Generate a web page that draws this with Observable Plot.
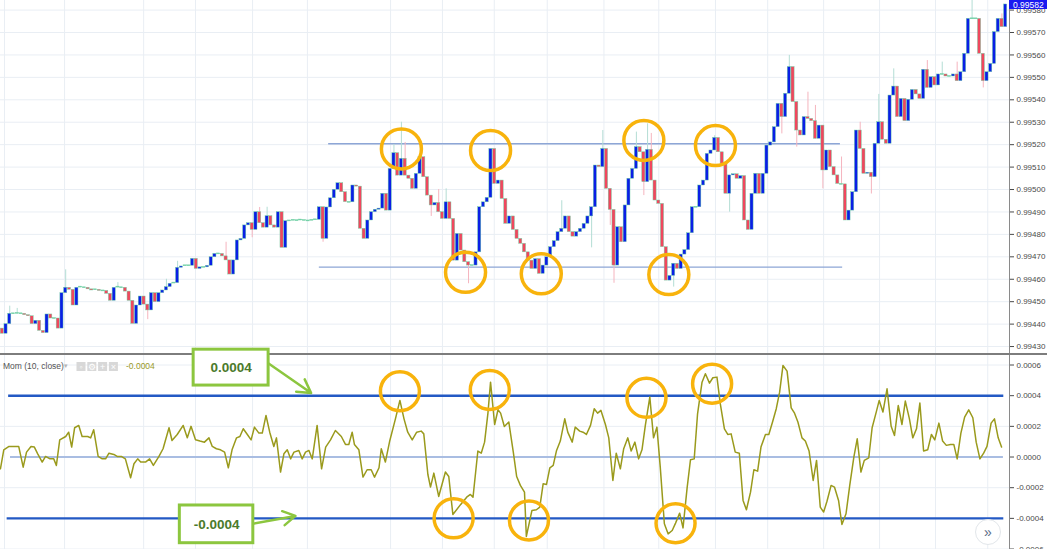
<!DOCTYPE html>
<html><head><meta charset="utf-8">
<script src="https://cdn.jsdelivr.net/npm/d3@7"></script>
<script src="https://cdn.jsdelivr.net/npm/@observablehq/plot@0.6"></script>
<style>
html,body{margin:0;padding:0;background:#fff;}
#chart{position:relative;width:1047px;height:549px;overflow:hidden;font-family:"Liberation Sans",Arial,sans-serif;background:#fff;}
#sep{height:2px;width:1047px;background:#7d7d7d;}
svg{display:block;}
</style></head><body><div id="chart"></div>
<script>
// ---------- data ----------
const firstOpen = 0.99438;
const closes = [
0.994357,0.9944,0.994446,0.994446,0.994448,0.994446,0.99444,0.994435,0.9944,0.994415,
0.99437,0.99436,0.994443,0.994425,0.994425,0.99438,0.994538,0.994562,0.994553,0.994483,
0.994562,0.994565,0.994562,0.994555,0.99455,0.994553,0.994548,0.994548,0.994535,0.994504,
0.994562,0.994565,0.994562,0.994545,0.994504,0.994401,0.994483,0.994523,0.994487,0.994461,
0.994538,0.994498,0.994538,0.99455,0.994565,0.99458,0.994583,0.994651,0.994657,0.99466,
0.99466,0.994691,0.994646,0.994653,0.994653,0.99466,0.994698,0.994713,0.994713,0.994702,
0.994684,0.994621,0.994684,0.994773,0.99478,0.99484,0.99485,0.99482,0.994899,0.99485,
0.99483,0.994881,0.99484,0.99483,0.994899,0.99474,0.994859,0.99486,0.994863,0.994861,
0.994864,0.994862,0.99486,0.994863,0.994865,0.994921,0.99478,0.99492,0.994961,0.994999,
0.995028,0.994988,0.994944,0.994943,0.995018,0.995013,0.994825,0.99478,0.994862,0.994899,
0.99491,0.994915,0.994981,0.994906,0.995092,0.995162,0.995062,0.995137,0.995062,0.995048,
0.995003,0.99507,0.995144,0.995055,0.994973,0.994929,0.99494,0.994899,0.994869,0.994943,
0.994869,0.994683,0.994802,0.994728,0.994676,0.994661,0.994661,0.99472,0.994921,0.994943,
0.994963,0.995181,0.995025,0.99504,0.994958,0.994847,0.99488,0.99482,0.99478,0.994758,
0.99472,0.994683,0.994646,0.99469,0.994624,0.994661,0.994698,0.994743,0.99477,0.99481,
0.994825,0.99488,0.99481,0.99479,0.99481,0.994825,0.994847,0.99488,0.994921,0.995107,
0.9951,0.995181,0.995003,0.994909,0.994661,0.994832,0.994765,0.994929,0.995048,0.995092,
0.995189,0.995166,0.995033,0.995177,0.99504,0.994951,0.994936,0.994743,0.994594,0.994615,
0.994669,0.994646,0.99471,0.99473,0.994805,0.994921,0.994921,0.995018,0.99504,0.995159,
0.995174,0.99523,0.995166,0.995115,0.994981,0.995063,0.995068,0.995048,0.99506,0.994862,
0.99482,0.994981,0.99507,0.994981,0.99507,0.995196,0.99521,0.995278,0.995382,0.995323,
0.995427,0.995546,0.99539,0.995263,0.995241,0.995323,0.995315,0.995305,0.995226,0.995285,
0.995085,0.995174,0.9951,0.995063,0.995025,0.995023,0.994862,0.994906,0.994988,0.995263,
0.995181,0.99507,0.995075,0.995055,0.995204,0.9953,0.995222,0.995204,0.995419,0.995459,
0.995323,0.995404,0.995305,0.9954,0.995444,0.995424,0.995404,0.995534,0.995453,0.995501,
0.995464,0.995513,0.995513,0.995504,0.995504,0.995513,0.995483,0.995523,0.995605,0.995761,
0.995761,0.995761,0.995605,0.995483,0.995523,0.99556,0.995702,0.995761,0.995724,0.995825
];
// [bar, high, low] for wicks that stick out of the body
const wicks = [
[2,0.99448,null],[4,0.99447,null],[17,0.994642,null],[31,0.994585,null],[39,null,0.99442],
[44,0.9946,null],[47,0.99468,null],[60,0.994765,null],[67,null,0.994785],[69,0.99492,null],
[71,0.994921,null],[86,null,0.994765],[105,0.9952,null],[107,0.9953,null],[108,0.99521,null],
[115,null,0.99488],[117,0.995,null],[119,0.995003,null],[125,null,0.99458],[150,0.99495,null],
[158,null,0.99474],[161,0.995263,null],[163,null,0.99484],[164,null,0.994582],[170,0.995256,null],
[172,null,0.994973],[173,0.995293,null],[174,0.99525,null],[180,null,0.994565],[191,0.99524,null],
[195,null,0.994899],[209,null,0.995248],[211,0.995598,null],[213,null,0.995189],[216,0.995434,null],
[218,0.995375,null],[220,null,0.995003],[225,0.995145,null],[230,0.9953,null],[233,null,0.99498],
[235,0.995424,null],[239,0.995538,null],[248,0.995575,null],[252,0.995568,null],[256,0.995568,null],
[260,0.995843,null],[263,null,0.995453],[268,0.995783,null]
];
// Momentum (10, close): [bar, value]
const momentum = [
[-0.5,-0.77e-4],[0.4,0.47e-4],[1.8,0.69e-4],[4.4,0.69e-4],[5.6,-0.66e-4],[6.5,0.32e-4],[7.7,0.69e-4],[8.6,0.65e-4],[9.5,0.21e-4],[10.7,-0.33e-4],
[11.6,0.04e-4],[12.8,-0.12e-4],[13.8,-0.12e-4],[14.5,-0.55e-4],[15.4,1.12e-4],[17,1.34e-4],[17.8,1.62e-4],[18.6,0.65e-4],[19.4,1.91e-4],[20.5,2.06e-4],
[21.4,1.34e-4],[22.9,1.34e-4],[23.7,1.25e-4],[24.5,1.78e-4],[25.7,0.04e-4],[26.8,-0.12e-4],[27.7,-0.12e-4],[28.6,0.25e-4],[29.9,0.17e-4],[30.8,0.04e-4],
[31.9,0.04e-4],[33,-0.12e-4],[34.4,-1.35e-4],[35.3,-0.44e-4],[36.3,-0.12e-4],[37.1,-0.33e-4],[38.4,-0.33e-4],[39.5,-0.12e-4],[40.5,-0.55e-4],[42,0.04e-4],
[43.1,0.54e-4],[44.7,1.91e-4],[45.5,1.08e-4],[46.9,1.47e-4],[48.5,2.06e-4],[49.6,1.25e-4],[50.6,2.0e-4],[51.8,1.12e-4],[53,1.04e-4],[54.2,0.97e-4],
[55.4,1.25e-4],[56.3,0.69e-4],[57.4,0.54e-4],[58.5,0.47e-4],[59.6,0.32e-4],[60.6,-0.7e-4],[61.6,0.47e-4],[62.8,1.25e-4],[63.7,1.34e-4],[64.6,1.84e-4],
[65.7,1.47e-4],[66.7,1.12e-4],[67.6,1.95e-4],[68.8,1.56e-4],[69.7,1.56e-4],[70.7,2.71e-4],[71.7,1.62e-4],[72.8,0.69e-4],[73.5,1.25e-4],[74.6,-0.98e-4],
[75.5,0.21e-4],[76.4,0.47e-4],[77.3,-0.12e-4],[78.2,0.32e-4],[79.5,0.43e-4],[80.4,-0.12e-4],[81.3,0.32e-4],[82.2,0.43e-4],[83.1,-0.12e-4],[84.4,2.06e-4],
[85.6,-0.77e-4],[86.7,0.65e-4],[88,1.12e-4],[89.3,1.73e-4],[90.9,1.34e-4],[92,0.82e-4],[92.9,0.82e-4],[93.8,1.62e-4],[94.4,0.82e-4],[95.6,0.47e-4],
[96.7,-1.31e-4],[97.8,-0.83e-4],[98.9,-0.83e-4],[99.8,-1.31e-4],[101,-0.7e-4],[101.6,0.54e-4],[102.7,-0.33e-4],[103.9,1.08e-4],[105.4,2.49e-4],[106.6,3.69e-4],
[107.7,2.49e-4],[108.7,1.62e-4],[109.9,1.12e-4],[111.1,1.62e-4],[112.3,1.69e-4],[113,1.51e-4],[114.1,-1.14e-4],[114.8,-1.96e-4],[115.7,-1.05e-4],[117,-2.57e-4],
[118.8,-0.98e-4],[119.7,-1.27e-4],[120.8,-3.75e-4],[122.9,-3.09e-4],[124.5,-2.62e-4],[125.5,-2.44e-4],[126.2,-2.62e-4],[127.5,0.39e-4],[128.4,0.25e-4],[129.3,0.97e-4],
[130.2,2.86e-4],[130.9,4.88e-4],[132,2.12e-4],[132.9,3.08e-4],[133.6,2.86e-4],[134.6,1.99e-4],[135.8,2.28e-4],[137,0.32e-4],[137.9,-1.27e-4],[138.9,-1.85e-4],
[140,-2.29e-4],[140.5,-5.18e-4],[142,-3.48e-4],[143.2,-3.44e-4],[144.1,-3.27e-4],[145,-1.75e-4],[145.9,-1.79e-4],[146.8,-0.7e-4],[147.7,-0.55e-4],[148.6,0.43e-4],
[149.6,1.04e-4],[150.8,2.49e-4],[151.6,1.62e-4],[152.8,0.97e-4],[153.6,1.95e-4],[154.8,1.69e-4],[155.7,1.62e-4],[156.6,1.47e-4],[157.7,2.06e-4],[158.7,3.15e-4],
[159.6,2.86e-4],[160.5,3.04e-4],[161.7,2.12e-4],[162.6,1.25e-4],[163.7,-1.53e-4],[164.6,0.25e-4],[165.7,-0.77e-4],[166.6,0.54e-4],[167.7,1.25e-4],[168.6,0.39e-4],
[169.6,0.97e-4],[170.6,-0.12e-4],[171.5,0.47e-4],[172.4,2.06e-4],[173.6,3.91e-4],[174.6,1.25e-4],[175.5,1.95e-4],[176.4,-0.66e-4],[177.5,-4.35e-4],[178.5,-5.01e-4],
[179.6,-4.79e-4],[180.5,-4.31e-4],[181.6,-3.66e-4],[182.5,-4.62e-4],[183.6,-2.01e-4],[184.5,-0.18e-4],[185.5,-0.12e-4],[186.4,2.82e-4],[187.6,4.88e-4],[188.5,5.43e-4],
[189.6,4.82e-4],[190.5,5.17e-4],[191.6,5.21e-4],[192.5,3.47e-4],[193.6,1.84e-4],[194.5,1.47e-4],[195.4,1.51e-4],[196.5,0.32e-4],[197.6,0.25e-4],[198.6,-2.83e-4],
[199.5,-3.44e-4],[200.6,-2.29e-4],[201.5,-0.83e-4],[202.5,-0.92e-4],[203.4,0.65e-4],[204.6,1.47e-4],[205.5,1.47e-4],[206.5,2.28e-4],[207.5,3.15e-4],[208.4,4.23e-4],
[209.3,5.97e-4],[210.4,5.6e-4],[211.5,3.21e-4],[212.4,2.86e-4],[213.3,2.28e-4],[214.4,1.25e-4],[215.3,1.04e-4],[216.3,0.39e-4],[217.4,-1.53e-4],[218.3,-0.22e-4],
[219.3,-3.27e-4],[220.2,-3.59e-4],[221.1,-2.88e-4],[222.2,-1.85e-4],[223.1,-1.96e-4],[224.2,-2.83e-4],[225.1,-4.4e-4],[226.2,-3.7e-4],[227.2,-1.85e-4],[228.3,0],
[229.2,1.19e-4],[230.2,-0.98e-4],[231.1,-0.22e-4],[232.3,-0.05e-4],[233.2,1.91e-4],[234.3,2.93e-4],[235.1,3.69e-4],[236.1,2.93e-4],[237.2,4.45e-4],[238.3,2.0e-4],
[239.2,1.41e-4],[240.2,3.36e-4],[241.2,2.12e-4],[242.1,3.65e-4],[243.2,2.49e-4],[244.1,1.25e-4],[245.1,1.84e-4],[246,3.52e-4],[247,0.39e-4],[248.1,0.47e-4],
[249.1,1.47e-4],[250,1.12e-4],[251.1,2.21e-4],[252.1,1.04e-4],[253.1,0.76e-4],[254.2,0.82e-4],[255.1,0.82e-4],[256,-0.12e-4],[257,1.56e-4],[258,2.6e-4],
[259.1,3.08e-4],[260.2,2.56e-4],[261.1,0.97e-4],[262.1,-0.12e-4],[263.1,0.25e-4],[264,0.69e-4],[265.1,2.21e-4],[266,2.49e-4],[267,1.25e-4],[267.9,0.65e-4]
];
const priceTicks = [0.9943,0.9944,0.9945,0.9946,0.9947,0.9948,0.9949,0.995,0.9951,0.9952,0.9953,0.9954,0.9955,0.9956,0.9957,0.9958];
const momTicks = [-0.0006,-0.0004,-0.0002,0,0.0002,0.0004,0.0006];
const timeGrid = [0.6,16.7,37.9,51.8,67.1,81.8,104.1,118,131.9,146.1,161.3,176,191.2,205.2,220.2,235.2,250.2,264.2];
const levels = [{y:0.995204, from:87.5, to:224.7},{y:0.994654, from:85, to:225.3}];
const priceCircles = [[107,0.995181],[130.9,0.995174],[124.2,0.994631],[144.5,0.994624],[172,0.995219],[178.7,0.994621],[191.2,0.995196]];
const momCircles = [[106.6,4.29e-4],[130.7,4.37e-4],[121,-4.0e-4],[141.2,-4.14e-4],[172.7,3.86e-4],[180.5,-4.32e-4],[190.3,4.78e-4]];
const momLevels = [{y:0.0004, from:1.7, to:268.5, c:"#2359c4", w:2.4},{y:-0.0004, from:1.3, to:268.5, c:"#2359c4", w:2.4},{y:0, from:2.2, to:268.4, c:"#a9bde2", w:2}];
const callouts = [
  {label:"0.0004", x1:51.3, x2:71.4, y1:0.000466, y2:0.0007, ax1:71.4, ay1:0.00061, ax2:82.8, ay2:0.000418},
  {label:"-0.0004", x1:47.6, x2:67.3, y1:-0.000562, y2:-0.000316, ax1:67.4, ay1:-0.000434, ax2:78.6, ay2:-0.000384}
];
const lastPrice = "0.99582";
const indicatorName = "Mom (10, close)";
const indicatorValue = "-0.0004";

// ---------- build ----------
const wickMap = new Map(wicks.map(w => [w[0], w]));
const candles = closes.map((c, i) => {
  const o = i === 0 ? firstOpen : closes[i - 1];
  const w = wickMap.get(i);
  const hi = w && w[1] != null ? Math.max(w[1], o, c) : Math.max(o, c);
  const lo = w && w[2] != null ? Math.min(w[2], o, c) : Math.min(o, c);
  return {i, open: o, close: c, high: hi, low: lo};
});
const xDomain = [-0.48, 270.03];
const W = 1047, MR = 38;
const UP = "#0a1fe6", DOWN = "#f0475e", EDGE = "#6fcfa4";
const minBody = 0.0000042;
const style = {fontFamily: "'Liberation Sans', Arial, sans-serif", fontSize: "8px", color: "#4a4a4a", background: "white", overflow: "visible"};

const topPlot = Plot.plot({
  width: W, height: 353, marginLeft: 0, marginRight: MR, marginTop: 0, marginBottom: 0,
  x: {domain: xDomain, axis: null},
  y: {domain: [0.994269, 0.9958427], axis: "right", ticks: priceTicks, tickFormat: d => d.toFixed(5), tickSize: 4, tickPadding: 3, label: null},
  color: {type: "identity"},
  style,
  marks: [
    Plot.ruleY(priceTicks, {stroke: "#e9eef4", strokeWidth: 1}),
    Plot.ruleX(timeGrid, {stroke: "#e9eef4", strokeWidth: 1}),
    Plot.ruleY(levels, {y: "y", x1: "from", x2: "to", stroke: "#8da6d6", strokeWidth: 1.3}),
    Plot.ruleX(candles.filter(d => d.high > Math.max(d.open, d.close) || d.low < Math.min(d.open, d.close)),
      {x: "i", y1: "low", y2: "high", stroke: d => d.close >= d.open ? "#b3ddd4" : "#f5b4be", strokeWidth: 1}),
    Plot.rect(candles, {
      x1: d => d.i - 0.42, x2: d => d.i + 0.42,
      y1: d => Math.abs(d.close - d.open) < minBody ? d.close - minBody / 2 : Math.min(d.open, d.close),
      y2: d => Math.abs(d.close - d.open) < minBody ? d.close + minBody / 2 : Math.max(d.open, d.close),
      fill: d => Math.abs(d.close - d.open) < minBody ? EDGE : (d.close > d.open ? UP : DOWN),
      stroke: EDGE, strokeWidth: 0.45
    }),
    Plot.dot(priceCircles, {x: d => d[0], y: d => d[1], r: 20, stroke: "#f8b30c", strokeWidth: 3.5, fill: "none"}),
    Plot.ruleX([xDomain[1]], {stroke: "#8a8a8a", strokeWidth: 1})
  ]
});

const botPlot = Plot.plot({
  width: W, height: 194, marginLeft: 0, marginRight: MR, marginTop: 0, marginBottom: 0,
  x: {domain: xDomain, axis: null},
  y: {domain: [-0.000603, 0.000662], axis: "right", ticks: momTicks, tickFormat: d => d.toFixed(4), tickSize: 4, tickPadding: 3, label: null},
  style,
  marks: [
    Plot.ruleY(momTicks.filter(d => Math.abs(d) > 0.0005 || Math.abs(Math.abs(d) - 0.0002) < 1e-9), {stroke: "#e9eef4", strokeWidth: 1}),
    Plot.ruleX(timeGrid, {stroke: "#e9eef4", strokeWidth: 1}),
    Plot.ruleY(momLevels, {y: "y", x1: "from", x2: "to", stroke: "c", strokeWidth: "w"}),
    Plot.line(momentum, {x: d => d[0], y: d => d[1], stroke: "#9a9a1c", strokeWidth: 1.5}),
    Plot.dot(momCircles, {x: d => d[0], y: d => d[1], r: 19.5, stroke: "#f8b30c", strokeWidth: 3.5, fill: "none"}),
    Plot.arrow(callouts, {x1: "ax1", y1: "ay1", x2: "ax2", y2: "ay2", stroke: "#8cc63f", strokeWidth: 2.5, headLength: 9}),
    Plot.rect(callouts, {x1: "x1", x2: "x2", y1: "y1", y2: "y2", fill: "white", stroke: "#8cc63f", strokeWidth: 3}),
    Plot.text(callouts, {x: d => (d.x1 + d.x2) / 2, y: d => (d.y1 + d.y2) / 2, text: "label", fontSize: 13.5, fontWeight: "bold", fill: "#4b7a2b"}),
    Plot.ruleX([xDomain[1]], {stroke: "#8a8a8a", strokeWidth: 1})
  ]
});

const chart = document.getElementById("chart");
chart.append(topPlot);
const sep = document.createElement("div"); sep.id = "sep"; chart.append(sep);
chart.append(botPlot);

// price tag on the right axis
const ts = d3.select(topPlot).append("g").attr("text-anchor", "start");
ts.append("rect").attr("x", 1009).attr("y", -3).attr("width", 38).attr("height", 12).attr("fill", "#1a1af0");
ts.append("text").attr("x", 1013).attr("y", 7.5).attr("fill", "white").attr("font-size", 8.5).attr("text-anchor", "start").text(lastPrice);

// indicator legend and scroll button
const bs = d3.select(botPlot).append("g").attr("text-anchor", "start");
bs.append("text").attr("x", 3).attr("y", 14).attr("fill", "#555").attr("font-size", 8.5).attr("text-anchor", "start").text(indicatorName);
bs.append("text").attr("x", 64).attr("y", 13).attr("fill", "#b5b5b5").attr("font-size", 7).attr("text-anchor", "start").text("▾");
const icons = ["◦", "⚙", "+", "×"];
icons.forEach((s, k) => {
  bs.append("rect").attr("x", 76.5 + k * 10.8).attr("y", 7).attr("width", 9).attr("height", 9).attr("fill", "#d8d8d8");
  bs.append("text").attr("x", 81 + k * 10.8).attr("y", 14.5).attr("text-anchor", "middle").attr("fill", "white").attr("font-size", 9).text(s);
});
bs.append("text").attr("x", 126).attr("y", 14).attr("fill", "#9a9a2a").attr("font-size", 8.5).attr("text-anchor", "start").text(indicatorValue);
bs.append("circle").attr("cx", 988).attr("cy", 177).attr("r", 12.5).attr("fill", "white").attr("stroke", "#e2e6ea");
bs.append("text").attr("x", 988).attr("y", 181.5).attr("text-anchor", "middle").attr("fill", "#5a6a86").attr("font-size", 14).text("»");
</script></body></html>
